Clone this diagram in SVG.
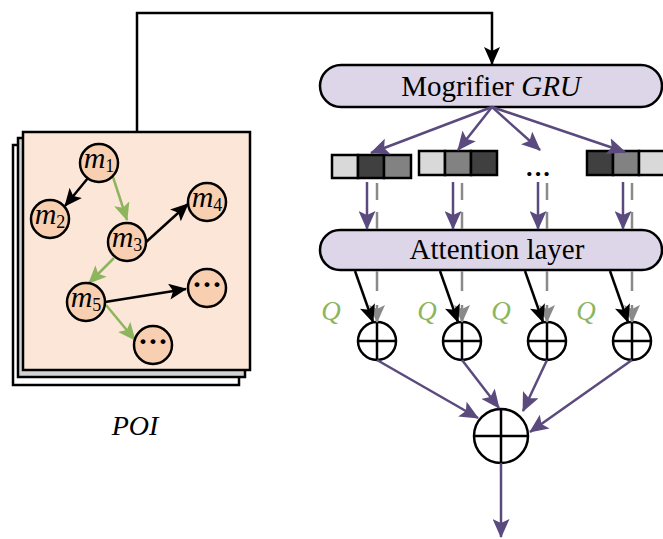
<svg xmlns="http://www.w3.org/2000/svg" width="663" height="539" viewBox="0 0 663 539">
<defs>
<marker id="ab" markerUnits="userSpaceOnUse" markerWidth="18" markerHeight="16" refX="17" refY="8" orient="auto"><path d="M0,0 L18,8 L0,16 L4,8 Z" fill="#000"/></marker>
<marker id="ag" markerUnits="userSpaceOnUse" markerWidth="18" markerHeight="16" refX="17" refY="8" orient="auto"><path d="M0,0 L18,8 L0,16 L4,8 Z" fill="#8db55e"/></marker>
<marker id="ap" markerUnits="userSpaceOnUse" markerWidth="19" markerHeight="17" refX="18" refY="8.5" orient="auto"><path d="M0,0 L19,8.5 L0,17 L4,8.5 Z" fill="#5a4a7e"/></marker>
<marker id="agr" markerUnits="userSpaceOnUse" markerWidth="18" markerHeight="16" refX="17" refY="8" orient="auto"><path d="M0,0 L18,8 L0,16 L4,8 Z" fill="#8a8a8a"/></marker>
</defs>
<style>
.serif{font-family:"Liberation Serif","Times New Roman",serif;}
.box{fill:#dcd6e8;stroke:#000;stroke-width:2.5;}
.node{fill:#f9cfb1;stroke:#000;stroke-width:2.5;}
.lbl{font-family:"Liberation Serif","Times New Roman",serif;font-size:30px;fill:#000;}
.cell{stroke:#000;stroke-width:2.5;}
.l{fill:#d9d9d9}.m{fill:#828282}.d{fill:#404040}
.pur{stroke:#5a4a7e;stroke-width:2.5;fill:none;}
.blk{stroke:#000;stroke-width:2.5;fill:none;}
.grn{stroke:#8db55e;stroke-width:2.5;fill:none;}
.gry{stroke:#8a8a8a;stroke-width:2.5;fill:none;}
.plus{fill:#fff;stroke:#000;stroke-width:2.5;}
.q{font-family:"Liberation Serif","Times New Roman",serif;font-style:italic;font-size:27px;fill:#8db55e;}
</style>
<rect width="663" height="539" fill="#fff"/>

<g id="poi">
<rect x="13" y="145" width="226" height="240" fill="#fff" stroke="#000" stroke-width="2.5"/>
<rect x="18" y="138" width="227" height="239" fill="#d3d3d3" stroke="#000" stroke-width="2.5"/>
<rect x="23" y="132" width="227" height="238" fill="#fbe6d8" stroke="#000" stroke-width="2.5"/>
<text class="serif" x="135" y="435" font-size="28" font-style="italic" text-anchor="middle">POI</text>
</g>

<g id="poi-edges">
<line class="blk" x1="88" y1="178" x2="65" y2="206" marker-end="url(#ab)"/>
<line class="grn" x1="113" y1="177" x2="127" y2="220" marker-end="url(#ag)"/>
<line class="blk" x1="145" y1="243" x2="188" y2="204" marker-end="url(#ab)"/>
<line class="grn" x1="114" y1="258" x2="89" y2="283" marker-end="url(#ag)"/>
<line class="blk" x1="105" y1="302" x2="186" y2="289" marker-end="url(#ab)"/>
<line class="grn" x1="106" y1="305" x2="135" y2="340" marker-end="url(#ag)"/>
</g>

<g id="m1"><circle class="node" cx="99" cy="163" r="19"/><text class="lbl" x="99" y="168" text-anchor="middle"><tspan font-style="italic">m</tspan><tspan font-size="18" dy="4">1</tspan></text></g>
<g id="m2"><circle class="node" cx="50" cy="219" r="19"/><text class="lbl" x="50" y="224" text-anchor="middle"><tspan font-style="italic">m</tspan><tspan font-size="18" dy="4">2</tspan></text></g>
<g id="m3"><circle class="node" cx="127" cy="242" r="19"/><text class="lbl" x="127" y="247" text-anchor="middle"><tspan font-style="italic">m</tspan><tspan font-size="18" dy="4">3</tspan></text></g>
<g id="m4"><circle class="node" cx="207" cy="202" r="19"/><text class="lbl" x="207" y="207" text-anchor="middle"><tspan font-style="italic">m</tspan><tspan font-size="18" dy="4">4</tspan></text></g>
<g id="m5"><circle class="node" cx="86" cy="302" r="19"/><text class="lbl" x="86" y="307" text-anchor="middle"><tspan font-style="italic">m</tspan><tspan font-size="18" dy="4">5</tspan></text></g>
<g id="dots1"><circle class="node" cx="207" cy="288" r="19"/><text class="lbl" x="207" y="294" text-anchor="middle" font-size="26" font-weight="bold">···</text></g>
<g id="dots2"><circle class="node" cx="153" cy="345" r="19"/><text class="lbl" x="153" y="351" text-anchor="middle" font-size="26" font-weight="bold">···</text></g>

<g id="gru">
<rect class="box" x="320" y="65" width="342" height="42" rx="21" ry="21"/>
<text class="serif" x="491" y="96" font-size="29" text-anchor="middle">Mogrifier <tspan font-style="italic">GRU</tspan></text>
</g>

<g id="vec1">
<rect class="cell l" x="332" y="155" width="26" height="23"/>
<rect class="cell d" x="358" y="155" width="26" height="23"/>
<rect class="cell m" x="384" y="155" width="27" height="23"/>
</g>
<g id="vec2">
<rect class="cell l" x="419" y="151" width="26" height="24"/>
<rect class="cell m" x="445" y="151" width="26" height="24"/>
<rect class="cell d" x="471" y="151" width="26" height="24"/>
</g>
<g id="vec3">
<text class="serif" x="538" y="182" font-size="26" font-weight="bold" text-anchor="middle">···</text>
</g>
<g id="vec4">
<rect class="cell d" x="587" y="151" width="26" height="24"/>
<rect class="cell m" x="613" y="151" width="26" height="24"/>
<rect class="cell l" x="639" y="151" width="26" height="24"/>
</g>

<g id="attention">
<rect class="box" x="320" y="230" width="342" height="40" rx="20" ry="20"/>
<text class="serif" x="497" y="259" font-size="29" text-anchor="middle">Attention layer</text>
</g>

<g id="sum1"><circle class="plus" cx="377" cy="341" r="19"/><path class="blk" d="M358,341 H396 M377,322 V360"/></g>
<g id="sum2"><circle class="plus" cx="462" cy="341" r="19"/><path class="blk" d="M443,341 H481 M462,322 V360"/></g>
<g id="sum3"><circle class="plus" cx="547" cy="341" r="19"/><path class="blk" d="M528,341 H566 M547,322 V360"/></g>
<g id="sum4"><circle class="plus" cx="632" cy="341" r="19"/><path class="blk" d="M613,341 H651 M632,322 V360"/></g>
<g id="sum"><circle class="plus" cx="501" cy="436" r="27"/><path class="blk" d="M474,436 H528 M501,409 V463"/></g>

<g id="q-labels">
<text class="q" x="331" y="320" text-anchor="middle">Q</text>
<text class="q" x="427" y="320" text-anchor="middle">Q</text>
<text class="q" x="501" y="320" text-anchor="middle">Q</text>
<text class="q" x="586" y="320" text-anchor="middle">Q</text>
</g>

<g id="connectors">
<polyline class="blk" points="137,132 137,13 492,13 492,64" marker-end="url(#ab)"/>
<line class="pur" x1="492" y1="107" x2="371" y2="153" marker-end="url(#ap)"/>
<line class="pur" x1="492" y1="107" x2="458" y2="150" marker-end="url(#ap)"/>
<line class="pur" x1="492" y1="107" x2="540" y2="150" marker-end="url(#ap)"/>
<line class="pur" x1="492" y1="107" x2="625" y2="152" marker-end="url(#ap)"/>

<line class="gry" x1="377" y1="183" x2="377" y2="229" stroke-dasharray="17 12"/>
<line class="gry" x1="462" y1="183" x2="462" y2="229" stroke-dasharray="17 12"/>
<line class="gry" x1="547" y1="183" x2="547" y2="229" stroke-dasharray="17 12"/>
<line class="gry" x1="632" y1="183" x2="632" y2="229" stroke-dasharray="17 12"/>
<line class="pur" x1="367" y1="182" x2="367" y2="229" marker-end="url(#ap)"/>
<line class="pur" x1="453" y1="182" x2="453" y2="229" marker-end="url(#ap)"/>
<line class="pur" x1="538" y1="182" x2="538" y2="229" marker-end="url(#ap)"/>
<line class="pur" x1="623" y1="182" x2="623" y2="229" marker-end="url(#ap)"/>

<line class="gry" x1="377" y1="271" x2="377" y2="322" stroke-dasharray="20 14" marker-end="url(#agr)"/>
<line class="gry" x1="462" y1="271" x2="462" y2="322" stroke-dasharray="20 14" marker-end="url(#agr)"/>
<line class="gry" x1="547" y1="271" x2="547" y2="322" stroke-dasharray="20 14" marker-end="url(#agr)"/>
<line class="gry" x1="632" y1="271" x2="632" y2="322" stroke-dasharray="20 14" marker-end="url(#agr)"/>
<line class="blk" x1="355" y1="271" x2="373" y2="322" marker-end="url(#ab)"/>
<line class="blk" x1="440" y1="271" x2="458" y2="322" marker-end="url(#ab)"/>
<line class="blk" x1="525" y1="271" x2="543" y2="322" marker-end="url(#ab)"/>
<line class="blk" x1="610" y1="271" x2="628" y2="322" marker-end="url(#ab)"/>

<line class="pur" x1="377" y1="360" x2="478" y2="418" marker-end="url(#ap)"/>
<line class="pur" x1="462" y1="360" x2="499" y2="408" marker-end="url(#ap)"/>
<line class="pur" x1="547" y1="360" x2="523" y2="411" marker-end="url(#ap)"/>
<line class="pur" x1="632" y1="360" x2="530" y2="432" marker-end="url(#ap)"/>
<line class="pur" x1="501" y1="463" x2="501" y2="537" marker-end="url(#ap)"/>
</g>
</svg>
